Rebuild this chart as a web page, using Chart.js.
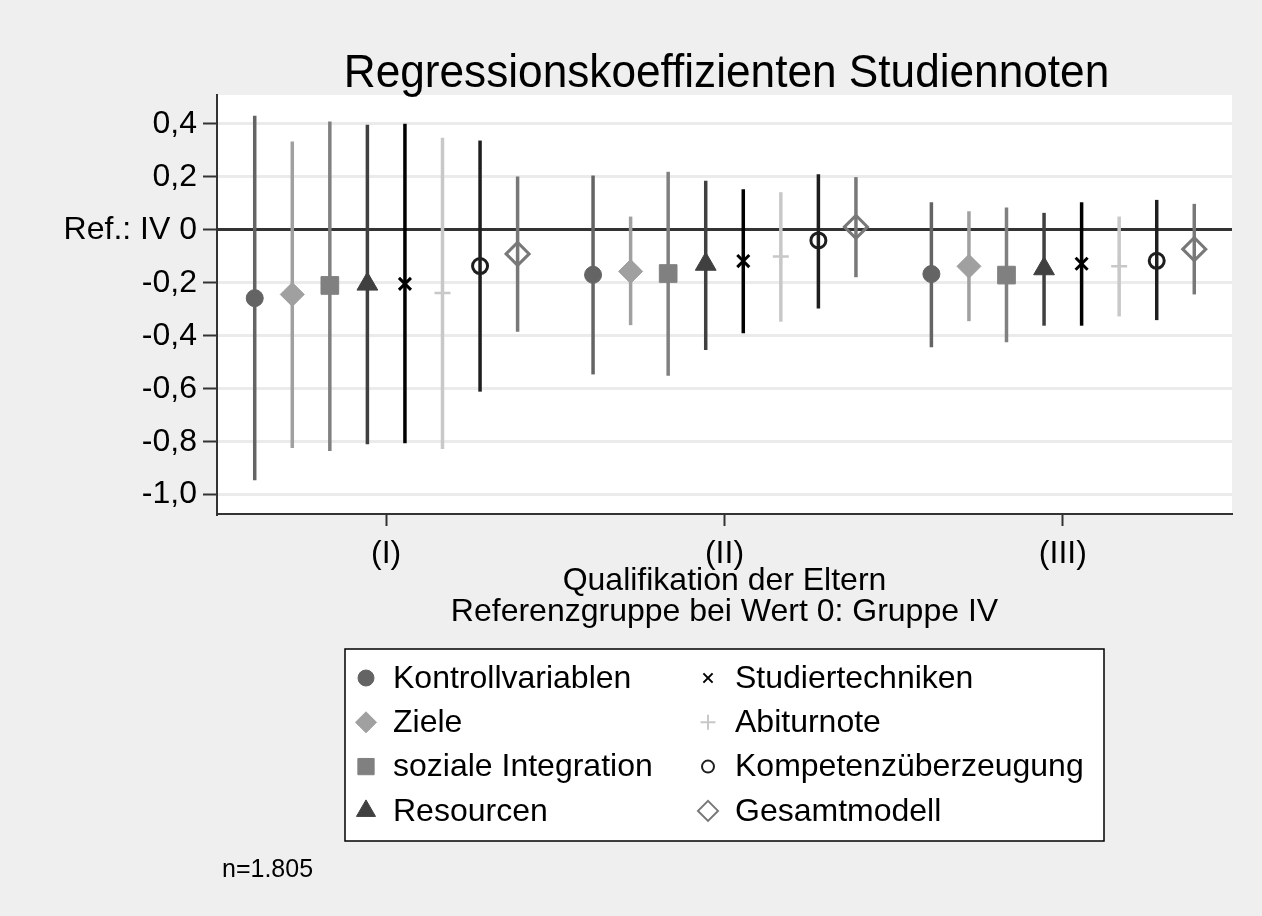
<!DOCTYPE html>
<html>
<head>
<meta charset="utf-8">
<script src="https://cdn.jsdelivr.net/npm/chart.js@4/dist/chart.umd.min.js"></script>
<style>
  html, body { margin: 0; padding: 0; background: #efefef; }
  #wrap { width: 1262px; height: 916px; }
</style>
</head>
<body>
<div id="wrap"><canvas id="chart" width="1262" height="916"></canvas></div>
<script>
// Gruppen (Qualifikation der Eltern)
const groups = ['(I)', '(II)', '(III)'];

const seriesNames = [
  'Kontrollvariablen', 'Ziele', 'soziale Integration', 'Resourcen',
  'Studiertechniken', 'Abiturnote', 'Kompetenzüberzeugung', 'Gesamtmodell'
];

// Koeffizienten je Modell, Werte für (I), (II), (III)
const koeffizienten = [
  [-0.258, -0.170, -0.167],
  [-0.244, -0.157, -0.138],
  [-0.210, -0.165, -0.171],
  [-0.205, -0.130, -0.147],
  [-0.204, -0.118, -0.128],
  [-0.239, -0.101, -0.138],
  [-0.137, -0.040, -0.117],
  [-0.091,  0.011, -0.073]
];

// Konfidenzintervalle
const untereGrenze = [
  [-0.946, -0.546, -0.443],
  [-0.824, -0.360, -0.345],
  [-0.835, -0.551, -0.425],
  [-0.810, -0.454, -0.362],
  [-0.806, -0.391, -0.362],
  [-0.828, -0.347, -0.327],
  [-0.611, -0.297, -0.341],
  [-0.385, -0.179, -0.244]
];
const obereGrenze = [
  [0.431, 0.205, 0.104],
  [0.333, 0.050, 0.070],
  [0.409, 0.219, 0.084],
  [0.397, 0.185, 0.064],
  [0.400, 0.153, 0.104],
  [0.348, 0.142, 0.050],
  [0.337, 0.210, 0.113],
  [0.201, 0.199, 0.098]
];

const yTicks = [-1.0, -0.8, -0.6, -0.4, -0.2, 0, 0.2, 0.4];

const titleText = 'Regressionskoeffizienten Studiennoten';
const xTitle = ['Qualifikation der Eltern', 'Referenzgruppe bei Wert 0: Gruppe IV'];
const note = 'n=1.805';

// Aussehen der Marker
const styles = [
  { color: '#646464', fill: '#646464', point: 'circle',   r: 8.5, bw: 1, lr: 8 },
  { color: '#a0a0a0', fill: '#a0a0a0', point: 'rectRot',  r: 12,  bw: 1, lr: 10.5 },
  { color: '#808080', fill: '#808080', point: 'rect',     r: 12.5, bw: 1, lr: 11.5 },
  { color: '#404040', fill: '#404040', point: 'triangle', r: 12,  bw: 1, lr: 11 },
  { color: '#000000', fill: '#000000', point: 'crossRot', r: 8.5, bw: 3, lr: 6.5 },
  { color: '#c8c8c8', fill: '#c8c8c8', point: 'cross',    r: 8,   bw: 2.5, lr: 7.5 },
  { color: '#1e1e1e', fill: 'rgba(0,0,0,0)', point: 'circle', r: 7.5, bw: 3, lr: 6 },
  { color: '#787878', fill: 'rgba(0,0,0,0)', point: 'rectRot', r: 11.5, bw: 3, lr: 10 }
];
const spread = 0.111;
const fontFam = '"Liberation Sans", Arial, sans-serif';

const datasets = seriesNames.map((name, i) => ({
  label: name,
  data: groups.map((g, j) => ({ x: j + 1 + (i - 3.5) * spread, y: koeffizienten[i][j] })),
  pointStyle: styles[i].point,
  pointRadius: styles[i].r,
  pointHoverRadius: styles[i].r,
  pointBorderWidth: styles[i].bw,
  pointHoverBorderWidth: styles[i].bw,
  pointBackgroundColor: styles[i].fill,
  pointBorderColor: styles[i].color,
  showLine: false
}));

// Fehlerbalken
const errorBars = {
  id: 'errorBars',
  beforeDatasetsDraw(chart) {
    const ctx = chart.ctx;
    const y = chart.scales.y;
    ctx.save();
    chart.data.datasets.forEach((ds, i) => {
      const meta = chart.getDatasetMeta(i);
      meta.data.forEach((pt, j) => {
        ctx.beginPath();
        ctx.strokeStyle = styles[i].color;
        ctx.lineWidth = 3.5;
        ctx.moveTo(pt.x, y.getPixelForValue(untereGrenze[i][j]));
        ctx.lineTo(pt.x, y.getPixelForValue(obereGrenze[i][j]));
        ctx.stroke();
      });
    });
    ctx.restore();
  }
};

// Titel, Legende (zwei Spalten) und Fallzahl
const annotations = {
  id: 'annotations',
  afterDraw(chart) {
    const ctx = chart.ctx;
    const a = chart.chartArea;
    const cx = (a.left + a.right) / 2;
    ctx.save();

    // Titel, leicht schmal gesetzt
    ctx.fillStyle = '#000000';
    ctx.font = '47px ' + fontFam;
    ctx.textAlign = 'center';
    ctx.textBaseline = 'alphabetic';
    ctx.save();
    ctx.translate(cx + 2, 87);
    ctx.scale(0.94, 1);
    ctx.fillText(titleText, 0, 0);
    ctx.restore();

    const w = 759, h = 192;
    const left = cx - w / 2;
    const top = 649;
    ctx.fillStyle = '#ffffff';
    ctx.fillRect(left, top, w, h);
    ctx.strokeStyle = '#000000';
    ctx.lineWidth = 1.5;
    ctx.strokeRect(left, top, w, h);
    ctx.font = '32px ' + fontFam;
    ctx.textBaseline = 'middle';
    ctx.textAlign = 'left';
    seriesNames.forEach((name, i) => {
      const col = Math.floor(i / 4), row = i % 4;
      const mx = left + 21 + col * 342;
      const my = top + 29 + row * 44.3;
      ctx.fillStyle = styles[i].fill;
      ctx.strokeStyle = styles[i].color;
      ctx.lineWidth = styles[i].bw === 1 ? 1 : 2;
      Chart.helpers.drawPoint(ctx, {
        pointStyle: styles[i].point, radius: styles[i].lr, rotation: 0,
        borderWidth: ctx.lineWidth
      }, mx, my);
      ctx.fillStyle = '#000000';
      ctx.fillText(name, mx + 27, my + 1);
    });
    ctx.font = '25px ' + fontFam;
    ctx.fillText(note, 222, 870);
    ctx.restore();
  }
};

const bgPlugin = {
  id: 'bg',
  beforeDraw(chart) {
    const ctx = chart.ctx;
    const a = chart.chartArea;
    ctx.save();
    ctx.fillStyle = '#efefef';
    ctx.fillRect(0, 0, chart.width, chart.height);
    ctx.fillStyle = '#ffffff';
    ctx.fillRect(a.left, a.top, a.right - a.left, a.bottom - a.top);
    ctx.restore();
  }
};

new Chart(document.getElementById('chart').getContext('2d'), {
  type: 'scatter',
  data: { datasets: datasets },
  plugins: [bgPlugin, errorBars, annotations],
  options: {
    responsive: false,
    animation: false,
    events: [],
    layout: { padding: { left: 0, right: 30, top: 95, bottom: 288 } },
    plugins: {
      legend: { display: false },
      tooltip: { enabled: false },
      title: { display: false }
    },
    scales: {
      x: {
        type: 'linear',
        min: 0.5,
        max: 3.5,
        afterFit(s) { s.height = 114; },
        afterBuildTicks(s) { s.ticks = groups.map((g, j) => ({ value: j + 1 })); },
        ticks: {
          color: '#000000',
          padding: 9,
          font: { family: fontFam, size: 32 },
          callback: (v) => groups[Math.round(v) - 1] || ''
        },
        grid: { drawOnChartArea: false, drawTicks: true, tickLength: 12, tickColor: '#333333', tickWidth: 2 },
        border: { display: true, color: '#333333', width: 2 },
        title: {
          display: true,
          text: xTitle,
          color: '#000000',
          font: { family: fontFam, size: 32, lineHeight: 0.97 },
          padding: { top: 0, bottom: 0 }
        }
      },
      y: {
        min: -1.073,
        max: 0.509,
        afterFit(s) { s.width = 217; },
        afterBuildTicks(s) { s.ticks = yTicks.map(v => ({ value: v })); },
        ticks: {
          color: '#000000',
          padding: 6,
          font: { family: fontFam, size: 32 },
          callback: (v) => Math.abs(v) < 1e-9 ? 'Ref.: IV 0' : v.toFixed(1).replace('.', ',')
        },
        grid: {
          color: (c) => (c.tick && Math.abs(c.tick.value) < 1e-9) ? '#333333' : '#ebebeb',
          lineWidth: 3,
          drawTicks: true,
          tickLength: 14,
          tickColor: '#333333',
          tickWidth: 2
        },
        border: { display: true, color: '#333333', width: 2 }
      }
    }
  }
});
</script>
</body>
</html>
